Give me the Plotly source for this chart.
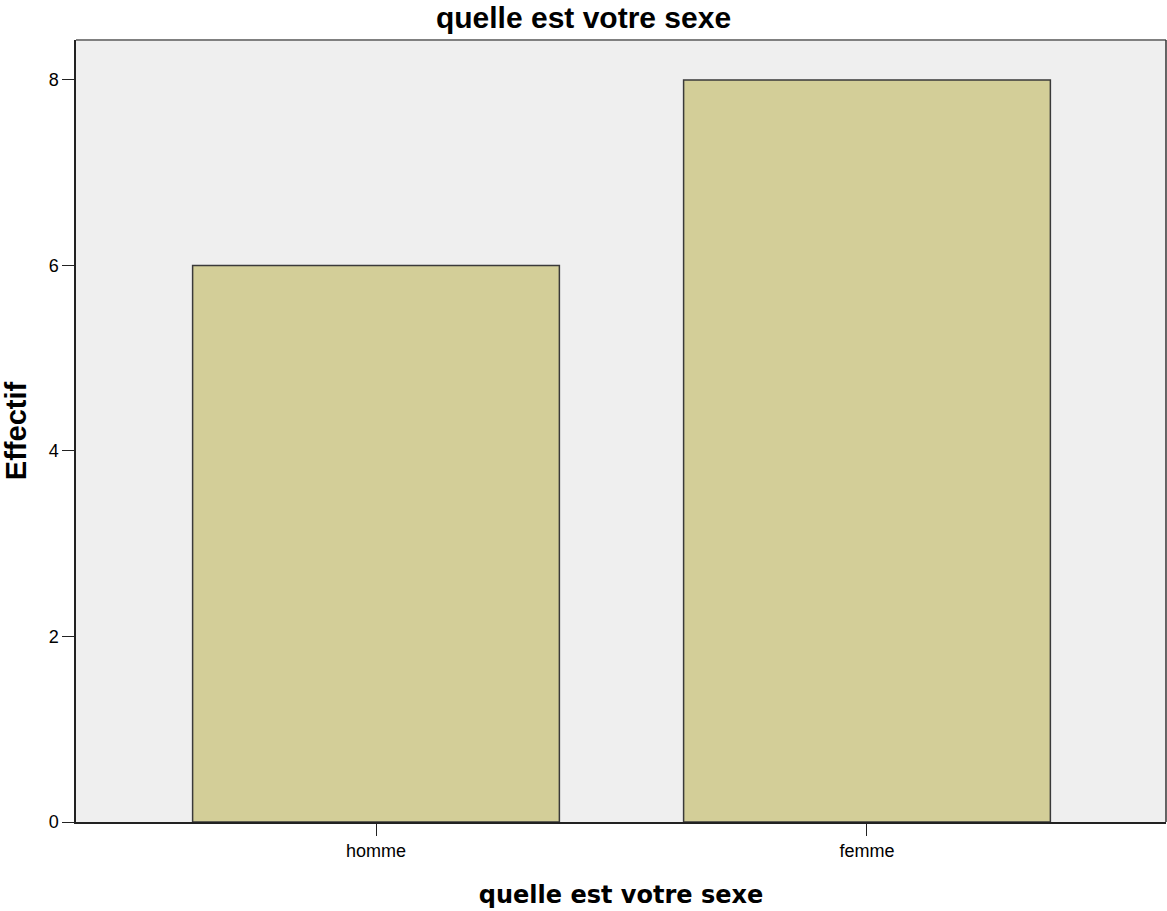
import plotly.graph_objects as go

categories = ["homme", "femme"]
counts = [6, 8]
title_text = "quelle est votre sexe"
x_title = "quelle est votre sexe"
y_title = "Effectif"
y_ticks = [0, 2, 4, 6, 8]

fig = go.Figure()
fig.add_trace(go.Bar(
    x=[0, 1], y=counts,
    width=0.747,
    marker=dict(color="#D3CE98", line=dict(color="#3a3a3a", width=1.5)),
))

fig.update_layout(
    width=1167, height=911,
    margin=dict(l=76, r=1, t=40, b=89),
    paper_bgcolor="white",
    plot_bgcolor="#EFEFEF",
    showlegend=False,
    title=dict(text="<b>" + title_text + "</b>", x=0.5, xanchor="center",
               y=1 - 17 / 911, yanchor="middle",
               font=dict(family="Arial, Liberation Sans", size=30, color="black")),
    xaxis=dict(
        range=[-0.611, 1.609],
        tickmode="array", tickvals=[0, 1], ticktext=categories,
        ticks="outside", ticklen=12, tickcolor="#222", tickwidth=1,
        showline=True, linecolor="#222", linewidth=1.5,
        showgrid=False, zeroline=False,
        tickfont=dict(family="Arial, Liberation Sans", size=18, color="black"),
        title=dict(text="<b>" + x_title + "</b>",
                   font=dict(family="DejaVu Sans", size=24, color="black"),
                   standoff=26),
        mirror=False,
    ),
    yaxis=dict(
        range=[0, 8.43],
        tickmode="array", tickvals=y_ticks, ticktext=[str(t) for t in y_ticks],
        ticks="outside", ticklen=12, tickcolor="#222", tickwidth=1,
        showline=True, linecolor="#222", linewidth=1.5,
        showgrid=False, zeroline=False,
        tickfont=dict(family="Arial, Liberation Sans", size=18, color="black"),
        title=dict(text="<b>" + y_title + "</b>",
                   font=dict(family="Arial, Liberation Sans", size=29, color="black"),
                   standoff=15),
    ),
    shapes=[
        dict(type="line", xref="paper", yref="paper", x0=0, x1=1, y0=1, y1=1,
             line=dict(color="#808080", width=2)),
        dict(type="line", xref="paper", yref="paper", x0=1, x1=1, y0=0, y1=1,
             line=dict(color="#333", width=1.5)),
    ],
)

fig.write_html("out.html")
